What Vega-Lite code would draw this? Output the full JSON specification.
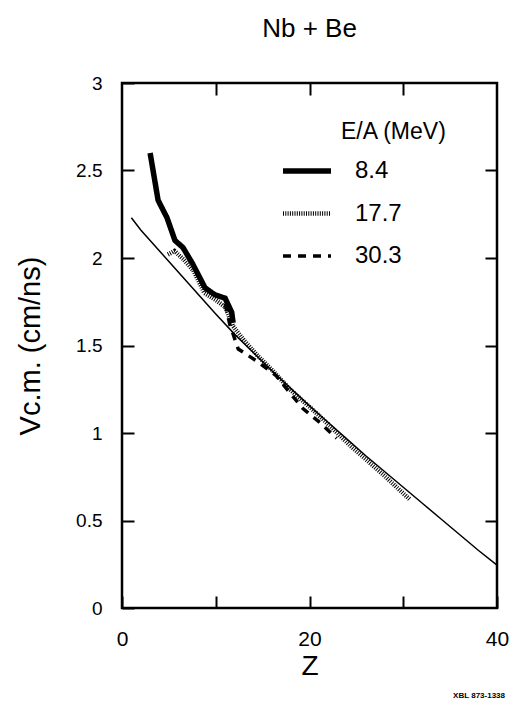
{
  "$schema": "https://vega.github.io/schema/vega-lite/v6.json",
  "width": 375,
  "height": 525,
  "autosize": "none",
  "padding": {"left": 122, "top": 83, "right": 17, "bottom": 99},
  "title": {"text": "Nb  +  Be", "fontSize": 26, "fontWeight": "normal", "font": "Liberation Sans", "color": "black", "anchor": "middle", "offset": 32},
  "config": {
    "font": "Liberation Sans",
    "view": {"stroke": "black", "strokeWidth": 2.5},
    "axis": {
      "domain": false, "grid": false, "ticks": true,
      "tickColor": "black", "tickWidth": 2, "tickSize": 12, "offset": -12,
      "labelColor": "black", "titleColor": "black",
      "labelFont": "Liberation Sans", "titleFont": "Liberation Sans",
      "titleFontWeight": "normal"
    },
    "legend": {
      "titleFont": "Liberation Sans", "labelFont": "Liberation Sans",
      "titleColor": "black", "labelColor": "black"
    }
  },
  "datasets": {
    "theory": [
      {"Z": 1, "V": 2.23}, {"Z": 2, "V": 2.16}, {"Z": 3, "V": 2.10}, {"Z": 4, "V": 2.04},
      {"Z": 5, "V": 1.98}, {"Z": 6, "V": 1.92}, {"Z": 8, "V": 1.80}, {"Z": 10, "V": 1.68},
      {"Z": 12, "V": 1.565}, {"Z": 14, "V": 1.46}, {"Z": 16, "V": 1.355}, {"Z": 18, "V": 1.255},
      {"Z": 20, "V": 1.155}, {"Z": 22, "V": 1.06}, {"Z": 24, "V": 0.965}, {"Z": 26, "V": 0.87},
      {"Z": 28, "V": 0.78}, {"Z": 30, "V": 0.69}, {"Z": 32, "V": 0.60}, {"Z": 34, "V": 0.51},
      {"Z": 36, "V": 0.42}, {"Z": 38, "V": 0.33}, {"Z": 40, "V": 0.245}
    ],
    "measured": [
      {"EA": "8.4", "Z": 3.0, "V": 2.60}, {"EA": "8.4", "Z": 3.85, "V": 2.33},
      {"EA": "8.4", "Z": 4.8, "V": 2.23}, {"EA": "8.4", "Z": 5.65, "V": 2.10},
      {"EA": "8.4", "Z": 6.5, "V": 2.06}, {"EA": "8.4", "Z": 7.5, "V": 1.97},
      {"EA": "8.4", "Z": 8.85, "V": 1.83}, {"EA": "8.4", "Z": 9.9, "V": 1.79},
      {"EA": "8.4", "Z": 11.0, "V": 1.77}, {"EA": "8.4", "Z": 11.7, "V": 1.69},
      {"EA": "8.4", "Z": 11.85, "V": 1.63},
      {"EA": "17.7", "Z": 4.9, "V": 2.02}, {"EA": "17.7", "Z": 5.6, "V": 2.04},
      {"EA": "17.7", "Z": 6.6, "V": 1.99}, {"EA": "17.7", "Z": 7.6, "V": 1.93},
      {"EA": "17.7", "Z": 8.8, "V": 1.80}, {"EA": "17.7", "Z": 10.0, "V": 1.76},
      {"EA": "17.7", "Z": 11.0, "V": 1.72}, {"EA": "17.7", "Z": 11.85, "V": 1.61},
      {"EA": "17.7", "Z": 13.0, "V": 1.53}, {"EA": "17.7", "Z": 14.5, "V": 1.44},
      {"EA": "17.7", "Z": 16.0, "V": 1.36}, {"EA": "17.7", "Z": 17.9, "V": 1.25},
      {"EA": "17.7", "Z": 20.4, "V": 1.13}, {"EA": "17.7", "Z": 22.0, "V": 1.05},
      {"EA": "17.7", "Z": 24.3, "V": 0.93}, {"EA": "17.7", "Z": 26.0, "V": 0.85},
      {"EA": "17.7", "Z": 27.9, "V": 0.76}, {"EA": "17.7", "Z": 29.5, "V": 0.68},
      {"EA": "17.7", "Z": 30.7, "V": 0.62},
      {"EA": "30.3", "Z": 11.0, "V": 1.74}, {"EA": "30.3", "Z": 11.5, "V": 1.62},
      {"EA": "30.3", "Z": 12.4, "V": 1.48}, {"EA": "30.3", "Z": 14.4, "V": 1.41},
      {"EA": "30.3", "Z": 16.4, "V": 1.33}, {"EA": "30.3", "Z": 17.9, "V": 1.23},
      {"EA": "30.3", "Z": 19.3, "V": 1.14}, {"EA": "30.3", "Z": 21.1, "V": 1.06},
      {"EA": "30.3", "Z": 22.9, "V": 0.97}
    ],
    "note": [{"Z": 40, "V": -0.5, "label": "XBL 873-1338"}]
  },
  "resolve": {"axis": {"x": "independent", "y": "independent"}},
  "layer": [
    {
      "data": {"name": "theory"},
      "mark": {"type": "line", "color": "black", "strokeWidth": 1.5},
      "encoding": {
        "x": {"field": "Z", "type": "quantitative", "scale": {"domain": [0, 40], "nice": false},
              "axis": {"values": [0, 10, 20, 30, 40], "labelExpr": "datum.value % 20 == 0 ? datum.label : ''",
                       "title": "Z", "titleFontSize": 28, "labelFontSize": 21, "labelPadding": 20, "titlePadding": 3, "labelFlush": false}},
        "y": {"field": "V", "type": "quantitative", "scale": {"domain": [0, 3], "nice": false},
              "axis": {"values": [0, 0.5, 1, 1.5, 2, 2.5, 3], "format": "~g", "title": "Vc.m. (cm/ns)", "titleFontSize": 29,
                       "labelFontSize": 19, "labelPadding": 20, "titlePadding": 30}}
      }
    },
    {
      "data": {"name": "measured"},
      "mark": {"type": "line", "color": "black", "strokeCap": "butt"},
      "encoding": {
        "x": {"field": "Z", "type": "quantitative", "scale": {"domain": [0, 40], "nice": false},
              "axis": {"orient": "top", "values": [10, 20, 30], "labels": false, "title": null}},
        "y": {"field": "V", "type": "quantitative", "scale": {"domain": [0, 3], "nice": false},
              "axis": {"orient": "right", "values": [0.5, 1, 1.5, 2, 2.5], "labels": false, "title": null}},
        "detail": {"field": "EA"},
        "strokeDash": {"field": "EA", "type": "nominal",
                       "scale": {"domain": ["8.4", "17.7", "30.3"], "range": [[1, 0], [1, 1.3], [8, 7]]},
                       "legend": {"title": "E/A (MeV)", "orient": "none",
                                  "legendX": 158, "legendY": 38, "titleFontSize": 23, "titleFontWeight": "normal",
                                  "titleAnchor": "middle", "titleAlign": "left",
                                  "titlePadding": 0, "labelFontSize": 24, "labelOffset": 21,
                                  "symbolType": "stroke", "symbolSize": 2304, "symbolStrokeColor": "black",
                                  "rowPadding": 4}},
        "strokeWidth": {"field": "EA", "type": "nominal",
                        "scale": {"domain": ["8.4", "17.7", "30.3"], "range": [5.5, 3.5, 6]},
                        "legend": {"title": "E/A (MeV)"}}
      }
    },
    {
      "data": {"name": "note"},
      "mark": {"type": "text", "align": "right", "baseline": "middle", "fontSize": 8, "fontWeight": "bold", "color": "black", "dx": 8},
      "encoding": {
        "x": {"field": "Z", "type": "quantitative", "axis": null},
        "y": {"field": "V", "type": "quantitative", "axis": null},
        "text": {"field": "label"}
      }
    }
  ]
}
